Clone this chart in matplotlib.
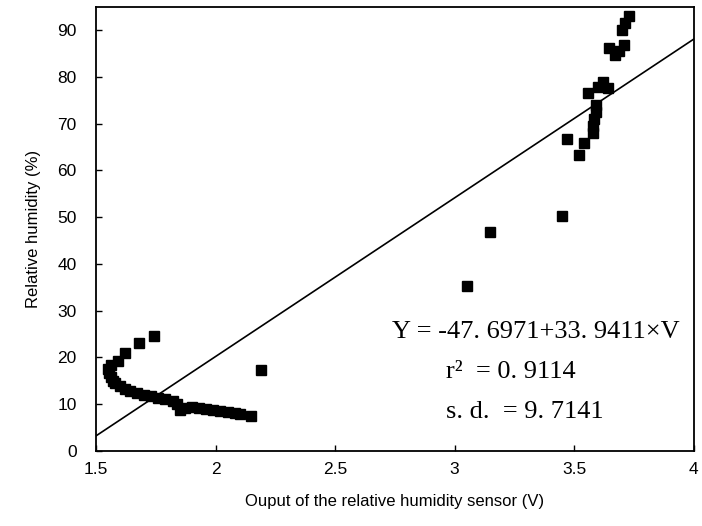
import numpy as np
import matplotlib
matplotlib.use("Agg")
import matplotlib.pyplot as plt

plt.rcParams['font.family'] = ['Liberation Sans', 'DejaVu Sans']

# sensor output (V) vs relative humidity (%)
volts = [1.74, 1.68, 1.62, 1.59, 1.56, 1.55, 1.555, 1.56, 1.57, 1.58,
         1.60, 1.62, 1.64, 1.67, 1.70, 1.73, 1.76, 1.79, 1.82, 1.84,
         1.85, 1.87, 1.90, 1.93, 1.96, 1.99, 2.02, 2.05, 2.08, 2.10,
         2.15, 2.19,
         3.05, 3.15, 3.45, 3.47, 3.52, 3.54, 3.58, 3.58, 3.585, 3.59,
         3.59, 3.56, 3.60, 3.62, 3.64, 3.645, 3.67, 3.69, 3.71, 3.70,
         3.715, 3.73]
humidity = [24.5, 23.0, 21.0, 19.2, 18.3, 17.5, 16.6, 15.8, 15.0, 14.4,
            13.8, 13.3, 12.8, 12.4, 12.0, 11.7, 11.4, 11.0, 10.6, 10.0,
            8.8, 9.2, 9.3, 9.2, 9.0, 8.8, 8.5, 8.2, 8.0, 7.8,
            7.4, 17.3,
            35.3, 46.9, 50.3, 66.7, 63.2, 65.8, 68.0, 69.5, 71.0, 72.5,
            74.0, 76.6, 77.8, 79.0, 77.6, 86.2, 84.7, 85.5, 86.9, 90.0,
            91.5, 93.0]

# linear fit from the paper
intercept = -47.6971
slope = 33.9411

fig = plt.figure(figsize=(7.02, 5.26), dpi=100)
ax = fig.add_axes([0.137, 0.143, 0.851, 0.844])

xl = np.array([1.5, 4.0])
ax.plot(xl, intercept + slope * xl, color='black', lw=1.2)
ax.plot(volts, humidity, 's', color='black', markersize=7.5, clip_on=False)

ax.set_xlim(1.5, 4)
ax.set_ylim(0, 95)
ax.set_xticks([1.5, 2, 2.5, 3, 3.5, 4])
ax.set_xticklabels(['1.5', '2', '2.5', '3', '3.5', '4'])
ax.set_yticks(range(0, 91, 10))
ax.tick_params(direction='in', length=4, width=1, labelsize=12.5)
ax.tick_params(axis='y', pad=14)
ax.tick_params(axis='x', pad=8)
for s in ax.spines.values():
    s.set_linewidth(1.3)

ax.set_xlabel('Ouput of the relative humidity sensor (V)', fontsize=12, labelpad=12)
ax.set_ylabel('Relative humidity (%)', fontsize=12, labelpad=12)

serif = ['Liberation Serif', 'DejaVu Serif']
ax.text(2.74, 25.4, 'Y = -47. 6971+33. 9411\u00d7V', fontsize=19, family=serif,
        ha='left', va='center')
ax.text(2.965, 16.8, 'r\u00b2  = 0. 9114', fontsize=19, family=serif,
        ha='left', va='center')
ax.text(2.965, 8.4, 's. d.  = 9. 7141', fontsize=19, family=serif,
        ha='left', va='center')

fig.savefig('out.png', dpi=100)
